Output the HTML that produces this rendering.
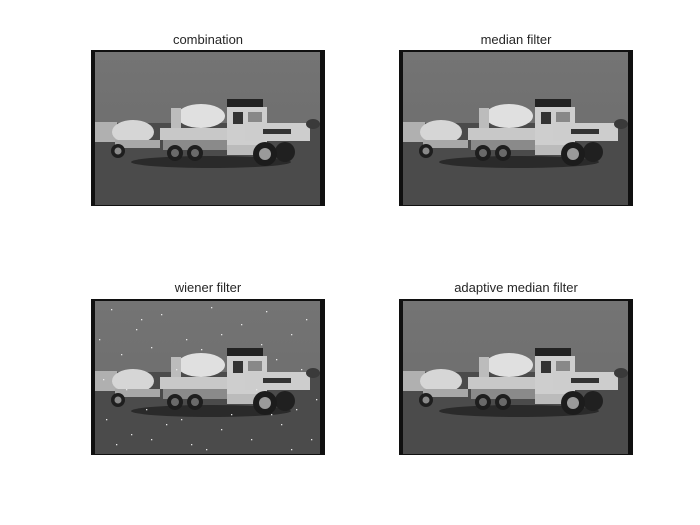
<!DOCTYPE html>
<html><head><meta charset="utf-8"><style>
body{margin:0;background:#fff;width:700px;height:525px;overflow:hidden}
svg{display:block}
text{font-family:"Liberation Sans",sans-serif;font-size:13px;fill:#262626}
</style></head><body>
<svg width="700" height="525" viewBox="0 0 700 525">
<defs>
<linearGradient id="sky" x1="0" y1="0" x2="0" y2="1">
<stop offset="0" stop-color="#747474"/><stop offset="1" stop-color="#6a6a6a"/>
</linearGradient>
<g id="truck">
<rect x="0" y="0" width="234" height="156" fill="#101010"/>
<rect x="4" y="2" width="225" height="153" fill="url(#sky)"/>
<rect x="4" y="73" width="225" height="82" fill="#4b4b4b"/>
<ellipse cx="120" cy="112" rx="80" ry="6" fill="#2a2a2a"/>
<rect x="4" y="72" width="22" height="20" fill="#b0b0b0"/>
<ellipse cx="42" cy="82" rx="21" ry="12" fill="#d6d6d6"/>
<rect x="24" y="90" width="45" height="8" fill="#a8a8a8"/>
<rect x="69" y="78" width="68" height="12" fill="#c8c8c8"/>
<rect x="72" y="90" width="64" height="10" fill="#8a8a8a"/>
<ellipse cx="110" cy="66" rx="24" ry="12" fill="#e0e0e0"/>
<rect x="80" y="58" width="10" height="20" fill="#bcbcbc"/>
<rect x="136" y="49" width="36" height="8" fill="#222"/>
<rect x="136" y="57" width="40" height="45" fill="#cecece"/>
<rect x="142" y="62" width="10" height="12" fill="#333"/>
<rect x="157" y="62" width="14" height="10" fill="#888"/>
<rect x="154" y="73" width="65" height="18" fill="#cdcdcd"/>
<rect x="172" y="79" width="28" height="5" fill="#333"/>
<rect x="136" y="95" width="30" height="10" fill="#bbb"/>
<circle cx="194" cy="102" r="10" fill="#202020"/>
<circle cx="174" cy="104" r="12" fill="#1c1c1c"/>
<circle cx="174" cy="104" r="6" fill="#9a9a9a"/>
<circle cx="84" cy="103" r="8" fill="#1e1e1e"/>
<circle cx="84" cy="103" r="4" fill="#6a6a6a"/>
<circle cx="104" cy="103" r="8" fill="#1e1e1e"/>
<circle cx="104" cy="103" r="4" fill="#6a6a6a"/>
<circle cx="27" cy="101" r="7" fill="#1e1e1e"/>
<circle cx="27" cy="101" r="3.5" fill="#8a8a8a"/>
<ellipse cx="222" cy="74" rx="7" ry="5" fill="#3a3a3a"/>
</g>
</defs>
<text x="208" y="44" text-anchor="middle">combination</text>
<text x="516" y="44" text-anchor="middle">median filter</text>
<text x="208" y="292" text-anchor="middle">wiener filter</text>
<text x="516" y="292" text-anchor="middle">adaptive median filter</text>
<use href="#truck" x="91" y="50"/>
<use href="#truck" x="399" y="50"/>
<use href="#truck" x="91" y="299"/>
<use href="#truck" x="399" y="299"/>
<g id="speckles" fill="#e8e8e8"></g>
</svg>
<script>
var g=document.getElementById('speckles');
var pts=[[20,10],[45,30],[70,15],[95,40],[120,8],[150,25],[175,12],[200,35],[215,20],[30,55],[60,48],[110,50],[185,60],[210,70],[15,120],[40,135],[75,125],[100,145],[130,130],[160,140],[190,125],[220,140],[55,110],[140,115],[205,110],[12,80],[85,70],[35,90],[165,90],[225,100],[50,20],[130,35],[25,145],[115,150],[200,150],[170,45],[8,40],[90,120],[60,140],[180,115]];
pts.forEach(function(p){var c=document.createElementNS('http://www.w3.org/2000/svg','rect');
c.setAttribute('x',91+p[0]);c.setAttribute('y',299+p[1]);c.setAttribute('width',1.3);c.setAttribute('height',1.3);


g.appendChild(c);});
</script>
</body></html>
